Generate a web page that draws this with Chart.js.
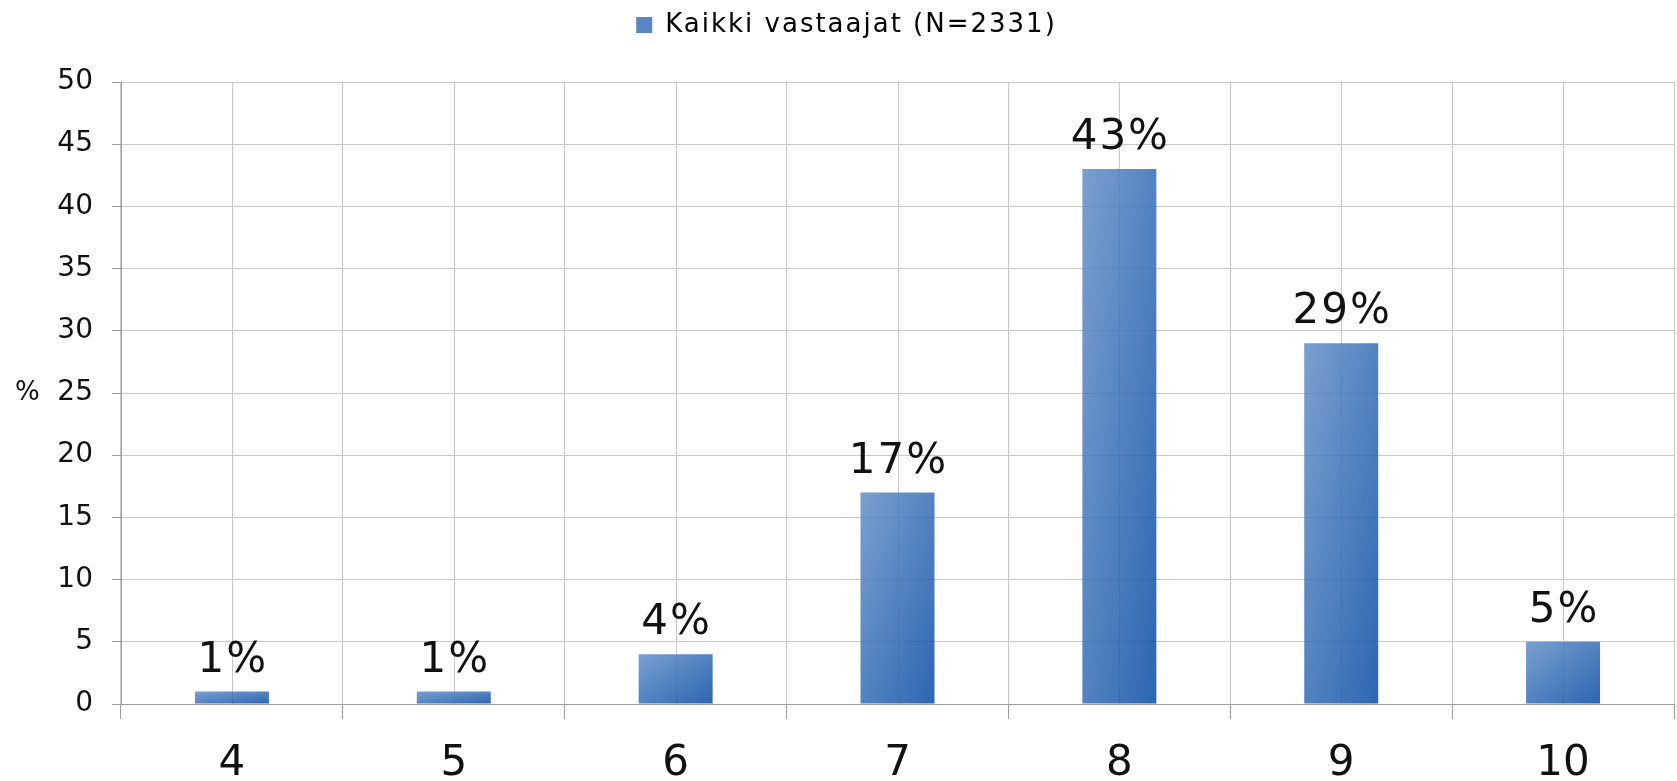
<!DOCTYPE html>
<html>
<head>
<meta charset="utf-8">
<title>Kaikki vastaajat</title>
<script src="https://cdn.jsdelivr.net/npm/chart.js@4/dist/chart.umd.min.js"></script>
<style>
  html, body { margin: 0; padding: 0; background: #fff; }
  #wrap { width: 1677px; height: 781px; }
</style>
</head>
<body>
<div id="wrap"><canvas id="gradeChart"></canvas></div>
<script>
// Grades and share of respondents (%)
var grades = ['4', '5', '6', '7', '8', '9', '10'];
var shares = [1, 1, 4, 17, 43, 29, 5];
var seriesName = 'Kaikki vastaajat (N=2331)';
var yTicks = [0, 5, 10, 15, 20, 25, 30, 35, 40, 45, 50];

var FONT = '"DejaVu Sans", Verdana, sans-serif';
var BAR_FRACTION = 0.3335;
var GRID = '#c8c8c8';
var AXIS = '#9c9c9c';

// diagonal light-to-dark blue across each bar (corner to corner)
function barFill(c) {
    var chart = c.chart;
    var x = chart.scales.x, y = chart.scales.y;
    if (!x || !y || c.type !== 'data') return '#5a86c4';
    var cx = x.getPixelForValue(c.dataIndex);
    var w = (x.width / grades.length) * BAR_FRACTION;
    var left = cx - w / 2;
    var top = y.getPixelForValue(c.raw);
    var h = Math.max(1, y.getPixelForValue(0) - top);
    var k = 2 * w * h / (w * w + h * h);
    var g = chart.ctx.createLinearGradient(left, top, left + h * k, top + w * k);
    g.addColorStop(0, 'rgba(98,143,200,0.85)');
    g.addColorStop(1, 'rgba(9,75,164,0.85)');
    return g;
}

// vertical lines through the middle of each category
var centerLines = {
    id: 'centerLines',
    beforeDatasetsDraw: function (chart) {
        var ctx = chart.ctx, x = chart.scales.x, area = chart.chartArea;
        ctx.save();
        ctx.strokeStyle = GRID;
        ctx.lineWidth = 1;
        grades.forEach(function (g, i) {
            var px = Math.round(x.getPixelForValue(i)) + 0.5;
            ctx.beginPath();
            ctx.moveTo(px, area.top);
            ctx.lineTo(px, area.bottom);
            ctx.stroke();
        });
        ctx.restore();
    }
};

// percentage above each bar and the "%" unit beside the y axis
var valueLabels = {
    id: 'valueLabels',
    afterDatasetsDraw: function (chart) {
        var ctx = chart.ctx;
        var meta = chart.getDatasetMeta(0);
        ctx.save();
        ctx.fillStyle = '#111';
        ctx.font = '42px ' + FONT;
        ctx.letterSpacing = '2px';
        ctx.textAlign = 'center';
        ctx.textBaseline = 'alphabetic';
        meta.data.forEach(function (bar, i) {
            ctx.fillText(shares[i] + '%', bar.x + 1, bar.y - 20);
        });
        ctx.letterSpacing = '0px';
        var y = chart.scales.y;
        ctx.font = '26px ' + FONT;
        ctx.textAlign = 'left';
        ctx.textBaseline = 'middle';
        ctx.fillText('%', 15, y.getPixelForValue(25));
        ctx.restore();
    }
};

// wider legend lettering, and room between the legend row and the plot
var legendStyle = {
    id: 'legendStyle',
    beforeLayout: function (chart) {
        var lg = chart.legend;
        if (lg && !lg._styled) {
            var fit = lg.fit, draw = lg.draw;
            lg.fit = function () {
                this.ctx.save();
                this.ctx.letterSpacing = '2px';
                fit.call(this);
                this.ctx.restore();
                this.height = Math.max(this.height, 80);
            };
            lg.draw = function () {
                this.ctx.save();
                this.ctx.letterSpacing = '2px';
                draw.call(this);
                this.ctx.restore();
            };
            lg._styled = true;
        }
    }
};

var ctx = document.getElementById('gradeChart').getContext('2d');
var gradeChart = new Chart(ctx, {
    type: 'bar',
    data: {
        labels: grades,
        datasets: [{
            label: seriesName,
            data: shares,
            backgroundColor: barFill,
            borderWidth: 0,
            categoryPercentage: 1,
            barPercentage: BAR_FRACTION
        }]
    },
    options: {
        responsive: true,
        maintainAspectRatio: false,
        animation: false,
        layout: { padding: { left: 19, right: 3, top: 2, bottom: 0 } },
        plugins: {
            tooltip: { enabled: false },
            legend: {
                position: 'top',
                labels: {
                    color: '#111',
                    font: { family: FONT, size: 26 },
                    boxWidth: 16,
                    boxHeight: 16,
                    padding: 10,
                    generateLabels: function () {
                        return [{
                            text: seriesName,
                            fillStyle: '#5a86c4',
                            strokeStyle: '#5a86c4',
                            lineWidth: 0,
                            datasetIndex: 0
                        }];
                    }
                }
            }
        },
        scales: {
            x: {
                offset: true,
                afterFit: function (scale) {
                    scale.height = 77;
                },
                grid: {
                    offset: true,
                    color: GRID,
                    tickColor: AXIS,
                    tickLength: 15
                },
                border: { color: AXIS },
                ticks: {
                    color: '#111',
                    font: { family: FONT, size: 42, lineHeight: 0.94 },
                    padding: 25
                }
            },
            y: {
                min: 0,
                max: 50,
                afterBuildTicks: function (scale) {
                    scale.ticks = yTicks.map(function (v) { return { value: v }; });
                },
                afterFit: function (scale) {
                    scale.width = 102;
                },
                grid: {
                    color: GRID,
                    tickColor: AXIS,
                    tickLength: 9
                },
                border: { color: AXIS },
                ticks: {
                    color: '#111',
                    font: { family: FONT, size: 28 },
                    padding: 19
                }
            }
        }
    },
    plugins: [legendStyle, centerLines, valueLabels]
});
</script>
</body>
</html>
